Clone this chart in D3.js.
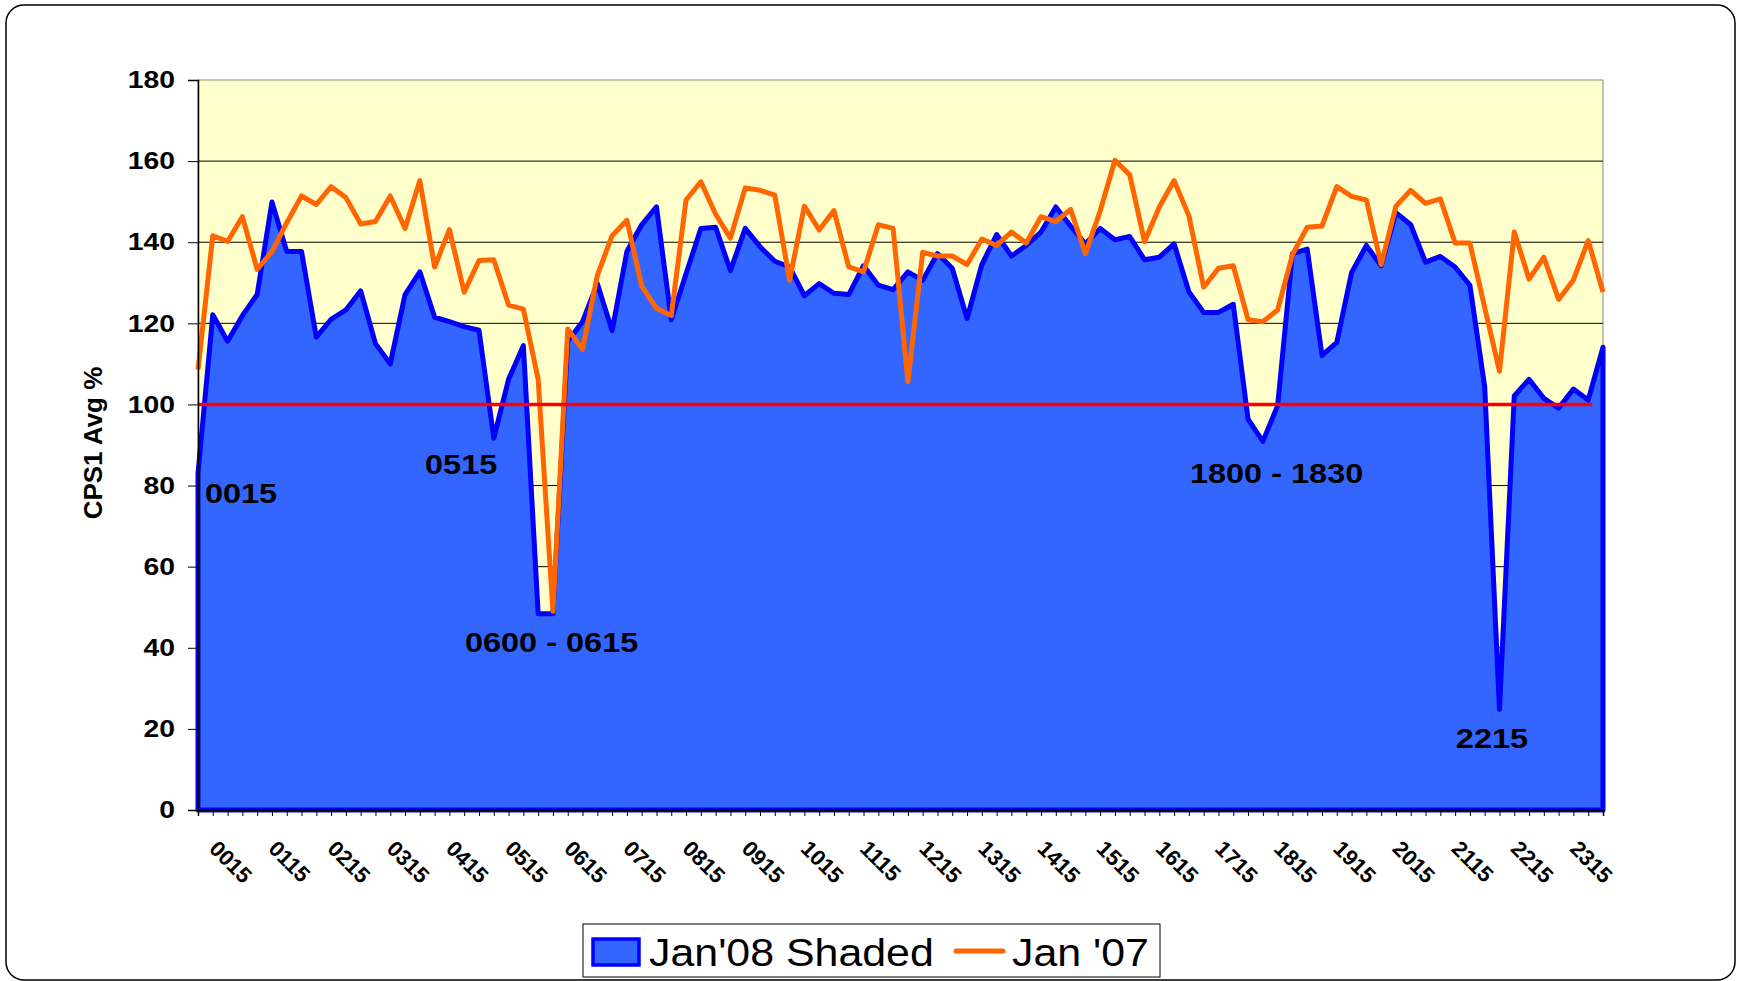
<!DOCTYPE html>
<html>
<head>
<meta charset="utf-8">
<script src="https://cdn.jsdelivr.net/npm/d3@7"></script>
<style>
  body { margin: 0; background: #fff; }
  svg { display: block; font-family: "Liberation Sans", Arial, sans-serif; }
</style>
</head>
<body>
<svg id="chart" width="1740" height="981"></svg>
<script>
// Jan'08 (shaded area), one value per 15 min slot, 0015 .. 2400
var jan08 = [83, 122.1, 115.6, 121.9, 127.1, 149.9, 137.7, 137.7, 116.6, 121, 123.3, 128,
  115, 110, 127.1, 132.7, 121.5, 120.4, 119.2, 118.3, 91.7, 106.2, 114.5, 48.4,
  48.4, 115.6, 120.4, 129.8, 118.2, 137.7, 144.3, 148.7, 120.9, 132.2, 143.4, 143.7,
  133, 143.4, 138.9, 135.3, 133.9, 126.8, 129.8, 127.4, 127.1, 134.2, 129.4, 128.3,
  132.7, 130.6, 137.2, 133.6, 121.2, 134.5, 141.9, 136.6, 139.2, 142.5, 148.7, 144,
  139.6, 143.4, 140.6, 141.4, 135.7, 136.3, 139.6, 127.8, 122.7, 122.7, 124.7, 96.4,
  90.9, 99.7, 137.2, 138.3, 112.1, 115.3, 132.5, 139.2, 134.2, 147.3, 144.3, 135.1,
  136.5, 133.9, 129.4, 104.4, 24.8, 102.1, 106.2, 101.5, 99.1, 103.8, 101.1, 114.1];

// Jan '07 (orange line)
var jan07 = [108.6, 141.6, 140.2, 146.3, 133.3, 137.7, 144.8, 151.4, 149.3, 153.7, 151, 144.5,
  145.1, 151.4, 143.4, 155.2, 133.9, 143.1, 127.7, 135.5, 135.7, 124.5, 123.5, 106.2,
  49, 118.6, 113.6, 131.8, 141.6, 145.4, 129.2, 123.7, 121.9, 150.4, 154.9, 146.9,
  141, 153.4, 152.8, 151.6, 130.6, 148.9, 143, 147.8, 133.9, 132.7, 144.3, 143.4,
  105.6, 137.5, 136.6, 136.6, 134.5, 140.8, 139.2, 142.5, 139.8, 146.3, 145.1, 148.1,
  137.2, 147.7, 160.2, 156.6, 140.1, 148.7, 155.2, 146.5, 128.9, 133.6, 134.2, 120.9,
  120.4, 123.3, 136.9, 143.7, 144, 153.7, 151.3, 150.4, 134.5, 148.9, 152.8, 149.6,
  150.7, 139.8, 139.8, 123.9, 108.2, 142.5, 130.9, 136.3, 125.9, 130.7, 140.4, 127.7];

var tickLabels = ["0015", "0115", "0215", "0315", "0415", "0515", "0615", "0715",
  "0815", "0915", "1015", "1115", "1215", "1315", "1415", "1515",
  "1615", "1715", "1815", "1915", "2015", "2115", "2215", "2315"];

var yTicks = [0, 20, 40, 60, 80, 100, 120, 140, 160, 180];

var targetValue = 100;
var targetLastSlot = 94;

// outage notes: label + the slot/value they sit at
var notes = [
  { text: "0015", slot: 0.47, value: 75.7 },
  { text: "0515", slot: 15.35, value: 82.9 },
  { text: "0600 - 0615", slot: 18.05, value: 38.9 },
  { text: "1800 - 1830", slot: 67.07, value: 80.6 },
  { text: "2215", slot: 85.05, value: 15.3 }
];

var svg = d3.select("#chart");
var plotLeft = 198, plotRight = 1603, plotTop = 80, plotBottom = 810;

// rounded outer frame
svg.append("rect")
  .attr("x", 6).attr("y", 5)
  .attr("width", 1729).attr("height", 975)
  .attr("rx", 18)
  .attr("fill", "#fff")
  .attr("stroke", "#000")
  .attr("stroke-width", 1.5);

var x = d3.scaleLinear().domain([0, jan08.length - 1]).range([plotLeft, plotRight]);
var y = d3.scaleLinear().domain([0, 180]).range([plotBottom, plotTop]);

// plot background
svg.append("rect")
  .attr("x", plotLeft).attr("y", plotTop)
  .attr("width", plotRight - plotLeft).attr("height", plotBottom - plotTop)
  .attr("fill", "#FFFFCC")
  .attr("stroke", "#888")
  .attr("stroke-width", 1);

// grid lines
svg.append("g").selectAll("line")
  .data(yTicks.filter(function(d){ return d > 0 && d < 180; }))
  .enter()
  .append("line")
  .attr("x1", plotLeft).attr("x2", plotRight)
  .attr("y1", function(d){ return y(d); })
  .attr("y2", function(d){ return y(d); })
  .attr("stroke", "#000")
  .attr("stroke-width", 1);

// Jan'08 shaded area
var area = d3.area()
  .x(function(d, i){ return x(i); })
  .y0(y(0))
  .y1(function(d){ return y(d); });

svg.append("path")
  .datum(jan08)
  .attr("d", area)
  .attr("fill", "#3366FF")
  .attr("stroke", "#0000FF")
  .attr("stroke-width", 5)
  .attr("stroke-linejoin", "round");

// Jan '07 line
var line = d3.line()
  .x(function(d, i){ return x(i); })
  .y(function(d){ return y(d); });

svg.append("path")
  .datum(jan07)
  .attr("d", line)
  .attr("fill", "none")
  .attr("stroke", "#FF6600")
  .attr("stroke-width", 5)
  .attr("stroke-linejoin", "round");

// 100% reference line
svg.append("line")
  .attr("x1", x(0) + 1).attr("x2", x(targetLastSlot) + 4)
  .attr("y1", y(targetValue)).attr("y2", y(targetValue))
  .attr("stroke", "#FF0000")
  .attr("stroke-width", 3.5);

// y axis
var yAxis = svg.append("g")
  .attr("transform", "translate(" + plotLeft + ",0)")
  .call(d3.axisLeft(y).tickValues(yTicks).tickSize(10).tickPadding(13));
yAxis.select(".domain").attr("stroke", "#000").attr("stroke-width", 1.5);
yAxis.selectAll(".tick line").attr("stroke", "#000");
yAxis.selectAll(".tick text")
  .attr("font-size", 24)
  .attr("font-weight", "bold")
  .attr("font-family", "Liberation Sans, Arial, sans-serif")
  .attr("fill", "#000")
  .attr("x", -23 / 1.18)
  .attr("transform", "scale(1.18,1)");

// x axis: minor tick on every slot
var xAxis = svg.append("g")
  .attr("transform", "translate(0," + plotBottom + ")")
  .call(d3.axisBottom(x).tickValues(d3.range(jan08.length)).tickSize(6).tickFormat(""));
xAxis.select(".domain").attr("stroke", "#000").attr("stroke-width", 1.5);
xAxis.selectAll(".tick line").attr("stroke", "#000");

svg.append("g").selectAll("text")
  .data(tickLabels)
  .enter()
  .append("text")
  .attr("transform", function(d, i){
    return "translate(" + (x(i * 4) + 10) + "," + (plotBottom + 40) + ") rotate(45)";
  })
  .attr("font-size", 22)
  .attr("font-weight", "bold")
  .attr("fill", "#000")
  .text(function(d){ return d; });

// y title
svg.append("text")
  .attr("transform", "translate(102," + ((plotTop + plotBottom) / 2 - 2) + ") rotate(-90)")
  .attr("text-anchor", "middle")
  .attr("font-size", 26)
  .attr("font-weight", "bold")
  .text("CPS1 Avg %");

// outage notes
svg.append("g").selectAll("text")
  .data(notes)
  .enter()
  .append("text")
  .attr("transform", function(d){
    return "translate(" + x(d.slot) + "," + y(d.value) + ") scale(1.16,1)";
  })
  .attr("font-size", 28)
  .attr("font-weight", "bold")
  .attr("fill", "#000")
  .text(function(d){ return d.text; });

// legend
var legend = svg.append("g");
legend.append("rect")
  .attr("x", 583).attr("y", 924)
  .attr("width", 577).attr("height", 53)
  .attr("fill", "#fff")
  .attr("stroke", "#000")
  .attr("stroke-width", 1);
legend.append("rect")
  .attr("x", 593).attr("y", 939)
  .attr("width", 46).attr("height", 26)
  .attr("fill", "#3366FF")
  .attr("stroke", "#0000FF")
  .attr("stroke-width", 3.5);
legend.append("text")
  .attr("transform", "translate(649,966) scale(1.1,1)")
  .attr("font-size", 39)
  .text("Jan'08 Shaded");
legend.append("line")
  .attr("x1", 956).attr("x2", 1003)
  .attr("y1", 951).attr("y2", 951)
  .attr("stroke", "#FF6600")
  .attr("stroke-width", 5)
  .attr("stroke-linecap", "round");
legend.append("text")
  .attr("transform", "translate(1012,966) scale(1.1,1)")
  .attr("font-size", 39)
  .text("Jan '07");
</script>
</body>
</html>
